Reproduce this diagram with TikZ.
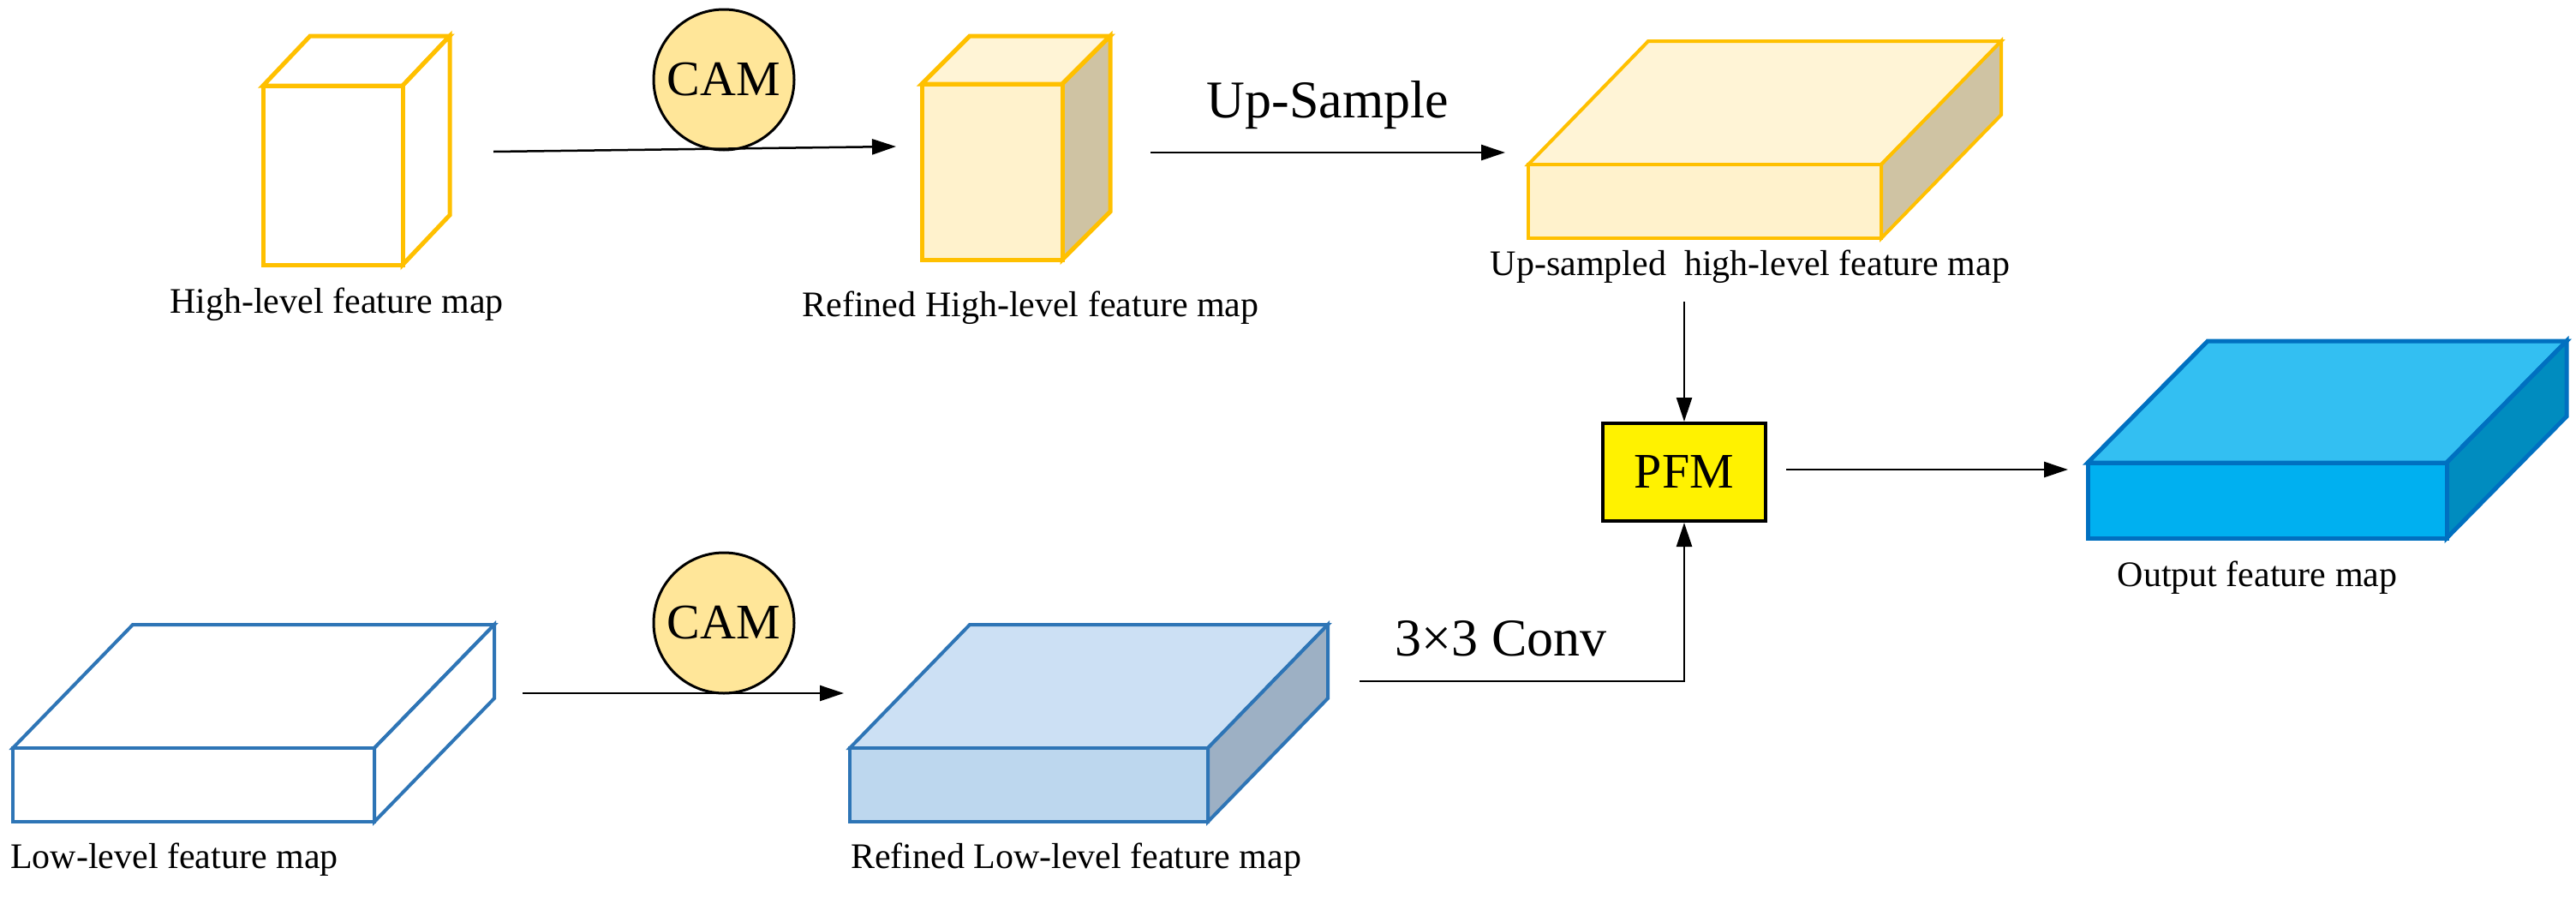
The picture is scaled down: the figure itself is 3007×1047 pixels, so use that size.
\documentclass[tikz,border=0pt]{standalone}
\usepackage{fontspec}
\setmainfont{Liberation Serif}
\usetikzlibrary{arrows.meta}
\definecolor{gold}{HTML}{FFC000}
\definecolor{ylf}{HTML}{FFF2CC}
\definecolor{ylt}{HTML}{FFF4D6}
\definecolor{yls}{HTML}{CFC3A3}
\definecolor{bedge}{HTML}{2E75B6}
\definecolor{blf}{HTML}{BDD7EE}
\definecolor{blt}{HTML}{CCE0F4}
\definecolor{bls}{HTML}{9DB0C4}
\definecolor{oedge}{HTML}{0070C0}
\definecolor{of}{HTML}{00B0F0}
\definecolor{ot}{HTML}{33BFF2}
\definecolor{os}{HTML}{008CBF}
\definecolor{camf}{HTML}{FFE699}
% #1 name, #2 x1, #3 y1 (top), #4 x2, #5 y2 (bottom), #6 dx, #7 dy, #8 front, #9 top/side spec
\newcommand\fmcube[9]{%
  \coordinate (#1-a) at (#2,#3);
  \coordinate (#1-b) at (#4,#3);
  \coordinate (#1-c) at (#4,#5);
  \coordinate (#1-d) at (#2,#5);
  \begin{scope}[#9]
  \draw[fill=\topc] (#1-a) -- ++(#6,-#7) -- ([shift={(#6,-#7)}]#1-b) -- (#1-b) -- cycle;
  \draw[fill=\sidec] (#1-b) -- ++(#6,-#7) -- ([shift={(#6,-#7)}]#1-c) -- (#1-c) -- cycle;
  \draw[fill=#8] (#1-a) rectangle (#1-c);
  \end{scope}
  \node[coordinate] (#1) at ($(#1-a)!0.5!(#1-c)$) {};}
\usetikzlibrary{calc}
\tikzset{
  lbl/.style={font=\fontsize{42}{48}\selectfont, inner sep=0pt},
  big/.style={font=\fontsize{62}{70}\selectfont, inner sep=0pt},
  arr/.style={line width=2.5pt, -{Triangle[length=28pt,width=18pt]}},
  cam/.style={circle, draw, line width=3pt, fill=camf, minimum size=164pt, inner sep=0pt, font=\fontsize{58}{64}\selectfont},
}
\begin{document}
\begin{tikzpicture}[x=1pt,y=-1pt]
\useasboundingbox (0,0) rectangle (3007,1047);
\def\topc{white}\def\sidec{white}
\fmcube{h1}{307}{100}{470}{309}{55}{58}{white}{draw=gold,line width=5pt}
\def\topc{ylt}\def\sidec{yls}
\fmcube{h2}{1076}{98}{1240}{303}{56}{56}{ylf}{draw=gold,line width=5pt}
\fmcube{h3}{1784}{192}{2196}{278}{140}{144}{ylf}{draw=gold,line width=4pt}
\def\topc{white}\def\sidec{white}
\fmcube{l1}{15}{873}{437}{959}{140}{144}{white}{draw=bedge,line width=4pt}
\def\topc{blt}\def\sidec{bls}
\fmcube{l2}{992}{873}{1410}{959}{140}{144}{blf}{draw=bedge,line width=4pt}
\def\topc{ot}\def\sidec{os}
\fmcube{o}{2437}{540}{2856}{628}{140}{142}{of}{draw=oedge,line width=5pt}

\node[lbl] (t1) at (393,355) {High-level feature map};
\node[lbl] (t2) at (1203,359) {Refined High-level feature map};
\node[lbl] (t3) at (2043,311) {Up-sampled\ \ high-level feature map};
\node[lbl,anchor=west] (t4) at (12,1003) {Low-level feature map};
\node[lbl] (t5) at (1256,1003) {Refined Low-level feature map};
\node[lbl] (t6) at (2635,674) {Output feature map};

\node[cam] (cam1) at (845,93) {CAM};
\node[cam] (cam2) at (845,727) {CAM};

\node[draw, line width=4pt, fill=yellow, minimum width=190pt, minimum height=114pt, font=\fontsize{58}{64}\selectfont] (pfm) at (1966,551) {PFM};

\coordinate (s1) at (576,177);
\coordinate (e1) at (1046,171);
\draw[arr] (s1) -- (e1);
\coordinate (s2) at (1343,178);
\coordinate (e2) at (1757,178);
\draw[arr] (s2) -- node[big, above=26pt] {Up-Sample} (e2);
\coordinate (s3) at (1966,352);
\draw[arr] (s3) -- (pfm.north);
\coordinate (s4) at (2085,548);
\coordinate (e4) at (2414,548);
\draw[arr] (s4) -- (e4);
\coordinate (s5) at (610,809);
\coordinate (e5) at (985,809);
\draw[arr] (s5) -- (e5);
\coordinate (s6) at (1587,795);
\draw[arr] (s6) -- (pfm.south |- s6) -- (pfm.south);
\node[big] (conv) at (1752,745) {3×3 Conv};
\end{tikzpicture}
\end{document}
